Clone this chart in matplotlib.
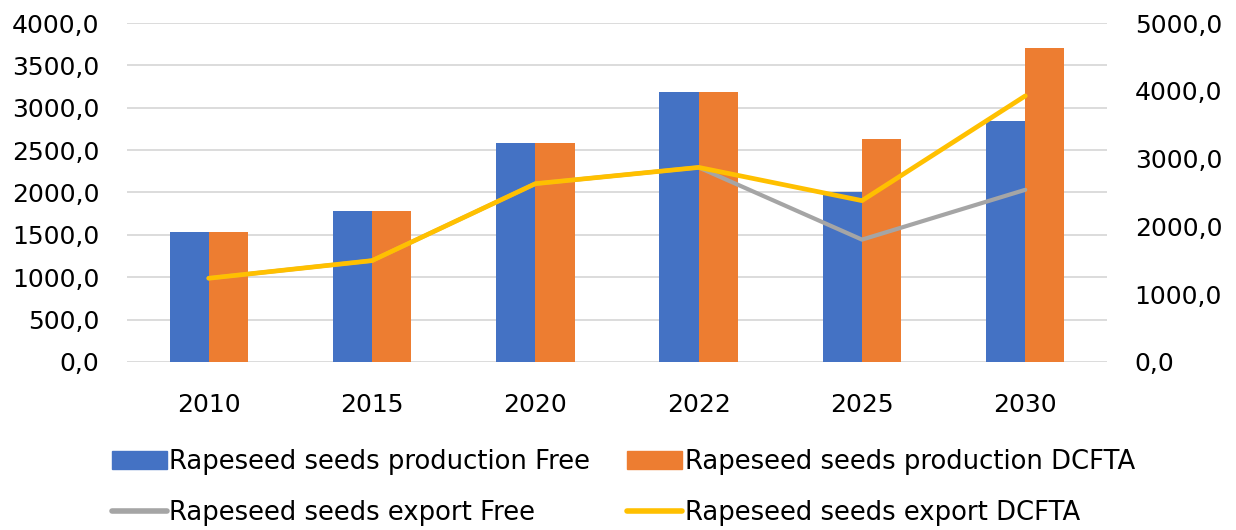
import matplotlib.pyplot as plt
from matplotlib.ticker import FuncFormatter, MultipleLocator
from matplotlib.patches import Patch
from matplotlib.lines import Line2D
import numpy as np

plt.rcParams['font.family'] = ['DejaVu Sans']

# ========== 数据 ==========
years = ['2010', '2015', '2020', '2022', '2025', '2030']
prod_free = [1535, 1785, 2585, 3190, 2000, 2840]
prod_dcfta = [1535, 1785, 2585, 3190, 2630, 3700]
export_free = [1235, 1495, 2630, 2870, 1805, 2540]
export_dcfta = [1235, 1495, 2630, 2870, 2380, 3925]

c_blue = '#4472C4'
c_orange = '#ED7D31'
c_gray = '#A5A5A5'
c_yellow = '#FFC000'

def comma_fmt(v, pos):
    return f'{v:.1f}'.replace('.', ',')

fig = plt.figure(figsize=(12.36, 5.30), dpi=100)
ax = fig.add_axes([0.1028, 0.317, 0.7928, 0.6396])

x = np.arange(len(years))
w = 0.24
ax.bar(x - w / 2, prod_free, w, color=c_blue, zorder=2)
ax.bar(x + w / 2, prod_dcfta, w, color=c_orange, zorder=2)

ax.set_xlim(-0.5, len(years) - 0.5)
ax.set_ylim(0, 4000)
ax.yaxis.set_major_locator(MultipleLocator(500))
ax.yaxis.set_major_formatter(FuncFormatter(comma_fmt))
ax.grid(axis='y', color='#D9D9D9', linewidth=1.3, zorder=0)
ax.set_axisbelow(True)
ax.set_xticks(x)
ax.set_xticklabels(years)
for s in ax.spines.values():
    s.set_visible(False)
ax.tick_params(length=0, labelsize=18, colors='black')
ax.tick_params(axis='x', pad=22)
ax.tick_params(axis='y', pad=20)

ax2 = ax.twinx()
ax2.plot(x, export_free, color=c_gray, linewidth=3.0, solid_capstyle='round', zorder=3)
ax2.plot(x, export_dcfta, color=c_yellow, linewidth=3.4, solid_capstyle='round', zorder=4)
ax2.set_ylim(0, 5000)
ax2.yaxis.set_major_locator(MultipleLocator(1000))
ax2.yaxis.set_major_formatter(FuncFormatter(comma_fmt))
for s in ax2.spines.values():
    s.set_visible(False)
ax2.tick_params(length=0, labelsize=18, colors='black', pad=20)

# ========== 图例 ==========
handles = [
    Patch(color=c_blue),
    Line2D([0], [0], color=c_gray, linewidth=4, solid_capstyle='round'),
    Patch(color=c_orange),
    Line2D([0], [0], color=c_yellow, linewidth=4, solid_capstyle='round'),
]
labels = [
    'Rapeseed seeds production Free',
    'Rapeseed seeds export Free',
    'Rapeseed seeds production DCFTA',
    'Rapeseed seeds export DCFTA',
]
fig.legend(handles, labels, ncol=2, loc='upper left',
           bbox_to_anchor=(0.082, 0.172), frameon=False, fontsize=18.6,
           handlelength=2.13, handleheight=0.65, handletextpad=0.1,
           columnspacing=1.43, labelspacing=0.95, borderaxespad=0)

fig.savefig('out.png', dpi=100)
